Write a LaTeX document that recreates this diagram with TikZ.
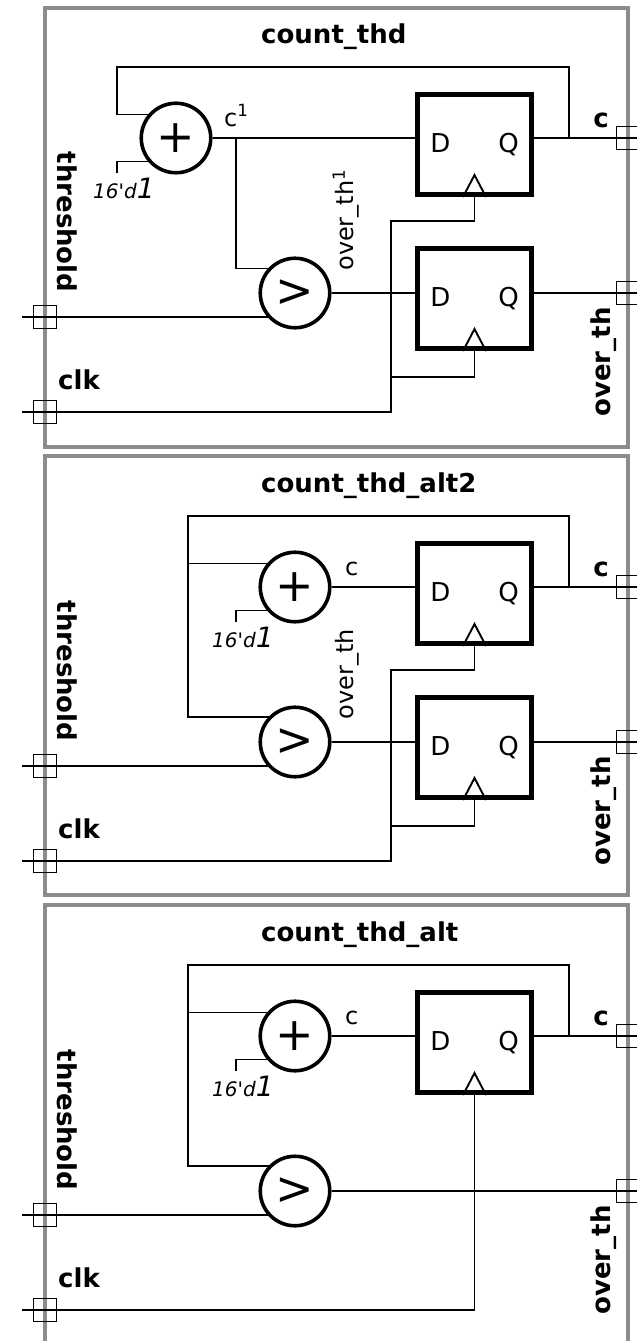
\documentclass[tikz,border=0pt]{standalone}
\usepackage{fontspec}
\setmainfont{DejaVu Sans}
\usetikzlibrary{positioning,calc}

\newcommand{\cnst}{{\itshape\fontsize{20}{24}\selectfont 16\textquotesingle d}{\itshape\fontsize{28}{30}\selectfont 1}}

\begin{document}
\begin{tikzpicture}[x=1pt,y=-1pt,
  wire/.style={line width=1.9pt},
  frame/.style={draw=black!45,line width=3.2pt},
  op/.style={circle,draw,line width=3.6pt,minimum size=69.5pt,inner sep=0pt,font=\fontsize{46}{46}\selectfont},
  dff/.style={rectangle,draw,line width=5pt,minimum width=114pt,minimum height=100pt,font=\fontsize{26}{30}\selectfont},
  port/.style={rectangle,draw,line width=1.8pt,minimum size=23pt,inner sep=0pt},
  lbl/.style={font=\fontsize{24}{28}\selectfont,inner sep=0pt},
  blbl/.style={font=\fontsize{26}{30}\selectfont\bfseries,inner sep=0pt}]
  \useasboundingbox (0,0) rectangle (637,1341);

  % 枠を描く
  \foreach \t/\b in {8/447,456/895,905/1360}
  \draw[frame] (45,\t) rectangle (628,\b);

  % count_thd
  \node[blbl,anchor=base west] (ttl_1) at (261,43) {count\_thd};
  \node[op] (add_1) at (176,138) {+};
  \node[op] (cmp_1) at (295,293) {>};
  \node[dff] (ffa_1) at (474.5,144.5) {D\hspace{48pt}Q};
  \node[dff] (ffb_1) at (474.5,298.5) {D\hspace{48pt}Q};
  \node[port] (thr_1) at (45,317) {};
  \node[port] (clk_1) at (45,412) {};
  \node[port] (c_1) at (628,138) {};
  \node[port] (ov_1) at (628,293) {};
  \coordinate (lp_1) at (117,67);
  \coordinate (fb_1) at (569,138);
  \coordinate (k_1) at (117,173);
  \coordinate (br_1) at (236,138);
  \coordinate (cka_1) at (391,221);
  \coordinate (ckb_1) at (391,377);

  \draw[wire] (add_1.140) -| (lp_1) -| (fb_1);
  \draw[wire] (add_1.220) -| (k_1);
  \draw[wire] (add_1.east) -- (add_1 -| ffa_1.west);
  \draw[wire] (br_1) |- (cmp_1.138);
  \draw[wire] (thr_1.center) ++(-23,0) -- (thr_1 -| cmp_1.222);
  \draw[wire] (cmp_1.east) -- (cmp_1 -| ffb_1.west);
  \draw[wire] (c_1 -| ffa_1.east) -- (c_1.east);
  \draw[wire] (ov_1 -| ffb_1.east) -- (ov_1.east);
  \draw[wire] (clk_1.center) ++(-23,0) -| (cka_1) -| (ffa_1.south);
  \draw[wire] (ckb_1) -| (ffb_1.south);

  \node[blbl,rotate=-90] (thl_1) at (67,222) {threshold};
  \node[blbl,anchor=base west] (clkl_1) at (58,389) {clk};
  \node[blbl,anchor=base] (cl_1) at (601,127) {c};
  \node[blbl,rotate=90] (ovl_1) at (604,362) {over\_th};
  \node[lbl,anchor=base west] (cn_1) at (224,126) {c\textsuperscript{1}};
  \node[lbl,rotate=90] (ovn_1) at (346,220) {over\_th\textsuperscript{1}};
  \node[anchor=base west,inner sep=0pt] (kl_1) at (93,198) {\cnst};

  % count_thd_alt2 と count_thd_alt の共通部分
  \foreach \p/\name in {2/count\_thd\_alt2,3/count\_thd\_alt}{
  \begin{scope}[yshift={-449pt*(\p-1)}]
    \node[blbl,anchor=base west] (ttl_\p) at (261,43) {\name};
    \node[op] (add_\p) at (295,138) {+};
    \node[op] (cmp_\p) at (295,293) {>};
    \node[dff] (ffa_\p) at (474.5,144.5) {D\hspace{48pt}Q};
    \node[port] (thr_\p) at (45,317) {};
    \node[port] (clk_\p) at (45,412) {};
    \node[port] (c_\p) at (628,138) {};
    \node[port] (ov_\p) at (628,293) {};
    \coordinate (lp_\p) at (188,67);
    \coordinate (fb_\p) at (569,138);
    \coordinate (k_\p) at (236,173);

    \draw[wire] (fb_\p) |- (lp_\p) |- (cmp_\p.136);
    \draw[wire] (add_\p.140) -- (add_\p.140 -| lp_\p);
    \draw[wire] (add_\p.220) -| (k_\p);
    \draw[wire] (add_\p.east) -- (add_\p -| ffa_\p.west);
    \draw[wire] (thr_\p.center) ++(-23,0) -- (thr_\p -| cmp_\p.222);
    \draw[wire] (c_\p -| ffa_\p.east) -- (c_\p.east);

    \node[blbl,rotate=-90] (thl_\p) at (67,222) {threshold};
    \node[blbl,anchor=base west] (clkl_\p) at (58,389) {clk};
    \node[blbl,anchor=base] (cl_\p) at (601,127) {c};
    \node[blbl,rotate=90] (ovl_\p) at (604,362) {over\_th};
    \node[lbl,anchor=base west] (cn_\p) at (345,126) {c};
    \node[anchor=base west,inner sep=0pt] (kl_\p) at (212,198) {\cnst};
  \end{scope}}

  % count_thd_alt2 の2つ目のフリップフロップ
  \node[dff] (ffb_2) at (474.5,747.5) {D\hspace{48pt}Q};
  \node[lbl,rotate=90] (ovn_2) at (347,674) {over\_th};
  \coordinate (cka_2) at (391,670);
  \coordinate (ckb_2) at (391,826);
  \draw[wire] (cmp_2.east) -- (cmp_2 -| ffb_2.west);
  \draw[wire] (ov_2 -| ffb_2.east) -- (ov_2.east);
  \draw[wire] (clk_2.center) ++(-23,0) -| (cka_2) -| (ffa_2.south);
  \draw[wire] (ckb_2) -| (ffb_2.south);

  % count_thd_alt は比較器から直接出力
  \draw[wire] (cmp_3.east) -- (ov_3.east);
  \draw[wire] (clk_3.center) ++(-23,0) -| (ffa_3.south);

  % クロックの三角
  \foreach \f in {ffa_1,ffb_1,ffa_2,ffb_2,ffa_3}
  \draw[wire] (\f.south) ++(-11.5,0) -- ++(11.5,-22) -- ++(11.5,22);
\end{tikzpicture}
\end{document}
